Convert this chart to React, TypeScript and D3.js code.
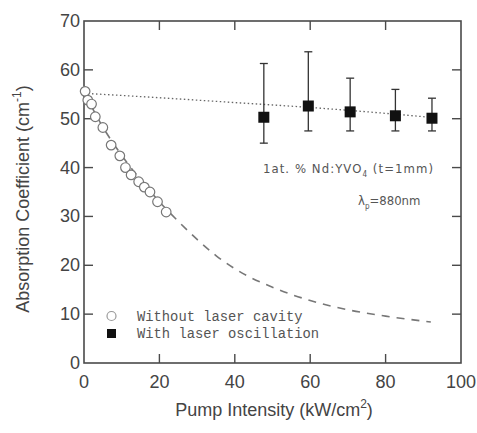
import React from "react";
import * as d3 from "d3";

const xTicks = [0, 20, 40, 60, 80, 100];
const yTicks = [0, 10, 20, 30, 40, 50, 60, 70];

const openX = [0.3, 1.0, 2.0, 3.0, 5.0, 7.2, 9.5, 11.0, 12.5, 14.5, 16.0, 17.5, 19.5, 21.8];
const openY = [55.6, 53.8, 53.0, 50.4, 48.2, 44.6, 42.4, 40.0, 38.5, 37.1, 36.0, 35.0, 33.0, 30.9];

const sqX = [47.7, 59.5, 70.6, 82.6, 92.3];
const sqY = [50.3, 52.6, 51.4, 50.6, 50.1];
const sqHi = [61.3, 63.7, 58.3, 56.0, 54.2];
const sqLo = [45.0, 47.5, 47.5, 47.5, 47.5];

const dotX = [0, 20, 40, 60, 80, 93];
const dotY = [55.2, 54.3, 53.3, 52.3, 51.1, 50.2];

const dashX = [0, 5, 10, 15, 20, 25, 30, 35, 40, 50, 60, 70, 80, 92];
const dashY = [55.5, 48.3, 42.5, 37.5, 33.0, 29.0, 25.3, 22.0, 19.3, 15.5, 12.8, 10.9, 9.6, 8.4];

const W = 477;
const H = 433;
const L = 84, R = 461, T = 21, B = 363;

export default function App() {
  const x = d3.scaleLinear().domain([0, 100]).range([L, R]);
  const y = d3.scaleLinear().domain([0, 70]).range([B, T]);
  const line = d3.line<[number, number]>().x(d => x(d[0])).y(d => y(d[1])).curve(d3.curveMonotoneX);
  const dotted = line(dotX.map((v, i) => [v, dotY[i]]) as [number, number][]) || "";
  const dashed = line(dashX.map((v, i) => [v, dashY[i]]) as [number, number][]) || "";
  const ax = "#4a4a4a";
  const tf = "'Liberation Sans', Arial, sans-serif";
  const tl = 9;
  return (
    <svg width={W} height={H} style={{ position: "absolute", left: 0, top: 0, background: "#fff" }}>
      <rect x={0} y={0} width={W} height={H} fill="#fff" />
      {/* curves */}
      <path d={dashed} fill="none" stroke="#777" strokeWidth={1.6} strokeDasharray="8,7" />
      <path d={dotted} fill="none" stroke="#666" strokeWidth={1.3} strokeDasharray="1.5,2.5" />
      {/* frame */}
      <rect x={L} y={T} width={R - L} height={B - T} fill="none" stroke={ax} strokeWidth={1.6} />
      {/* ticks */}
      {xTicks.filter(t => t > 0 && t < 100).map(t => (
        <g key={"xt" + t}>
          <line x1={x(t)} x2={x(t)} y1={B} y2={B - tl} stroke={ax} strokeWidth={1.4} />
          <line x1={x(t)} x2={x(t)} y1={T} y2={T + tl} stroke={ax} strokeWidth={1.4} />
        </g>
      ))}
      {yTicks.filter(t => t > 0 && t < 70).map(t => (
        <g key={"yt" + t}>
          <line x1={L} x2={L + tl} y1={y(t)} y2={y(t)} stroke={ax} strokeWidth={1.4} />
          <line x1={R} x2={R - tl} y1={y(t)} y2={y(t)} stroke={ax} strokeWidth={1.4} />
        </g>
      ))}
      {/* tick labels */}
      {xTicks.map(t => (
        <text key={"xl" + t} x={x(t)} y={B + 25} textAnchor="middle" fontFamily={tf} fontSize={18} fill="#444">{t}</text>
      ))}
      {yTicks.map(t => (
        <text key={"yl" + t} x={L - 4} y={y(t) + 6} textAnchor="end" fontFamily={tf} fontSize={18} fill="#444">{t}</text>
      ))}
      {/* axis titles */}
      <text x={274} y={416} textAnchor="middle" fontFamily={tf} fontSize={18} fill="#444">
        Pump Intensity (kW/cm<tspan dy={-8} fontSize={12}>2</tspan><tspan dy={8}>)</tspan>
      </text>
      <text transform={`translate(29,199) rotate(-90)`} textAnchor="middle" fontFamily={tf} fontSize={18} fill="#444">
        Absorption Coefficient (cm<tspan dy={-8} fontSize={12}>-1</tspan><tspan dy={8}>)</tspan>
      </text>
      {/* open circles */}
      {openX.map((v, i) => (
        <circle key={"c" + i} cx={x(v)} cy={y(openY[i])} r={4.8} fill="#fff" stroke="#777" strokeWidth={1.2} />
      ))}
      {/* error bars + squares */}
      {sqX.map((v, i) => (
        <g key={"s" + i}>
          <line x1={x(v)} x2={x(v)} y1={y(sqLo[i])} y2={y(sqHi[i])} stroke="#333" strokeWidth={1.3} />
          <line x1={x(v) - 4} x2={x(v) + 4} y1={y(sqLo[i])} y2={y(sqLo[i])} stroke="#333" strokeWidth={1.3} />
          <line x1={x(v) - 4} x2={x(v) + 4} y1={y(sqHi[i])} y2={y(sqHi[i])} stroke="#333" strokeWidth={1.3} />
          <rect x={x(v) - 5.5} y={y(sqY[i]) - 5.5} width={11} height={11} fill="#111" />
        </g>
      ))}
      {/* annotations */}
      <text x={263} y={173} fontFamily="'Liberation Sans Narrow', 'DejaVu Sans Condensed', Arial, sans-serif" fontSize={13} fill="#555" textLength={170}>
        1at. % Nd:YVO<tspan dy={4} fontSize={8}>4</tspan><tspan dy={-4}>  (t=1mm)</tspan>
      </text>
      <text x={358} y={205} fontFamily="'Liberation Sans Narrow', 'DejaVu Sans Condensed', Arial, sans-serif" fontSize={13} fill="#555">
        λ<tspan dy={4} fontSize={8}>p</tspan><tspan dy={-4}>=880nm</tspan>
      </text>
      {/* legend */}
      <circle cx={111.5} cy={316} r={4.5} fill="#fff" stroke="#999" strokeWidth={1.2} />
      <rect x={107} y={329} width={9} height={9} fill="#111" />
      <text x={137} y={321} fontFamily="'Liberation Mono', 'DejaVu Sans Mono', monospace" fontSize={13.8} fill="#555">Without laser cavity</text>
      <text x={137} y={338} fontFamily="'Liberation Mono', 'DejaVu Sans Mono', monospace" fontSize={13.8} fill="#555">With laser oscillation</text>
    </svg>
  );
}
